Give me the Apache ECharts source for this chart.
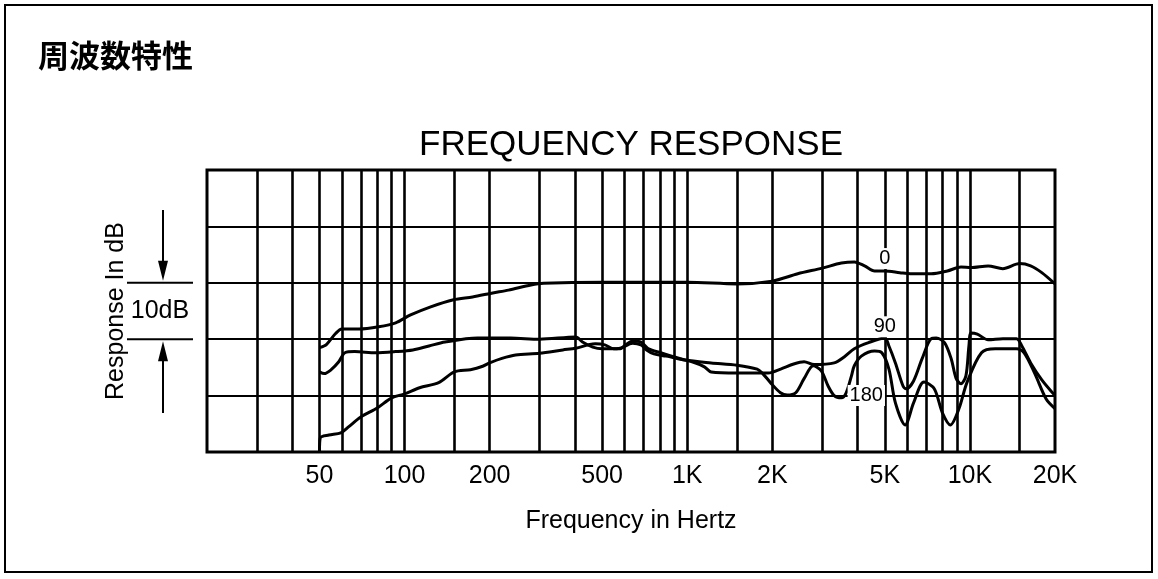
<!DOCTYPE html>
<html>
<head>
<meta charset="utf-8">
<style>
  html, body { margin: 0; padding: 0; background: #fff; }
  #main { width: 1158px; height: 579px; }
</style>
<script src="https://cdn.jsdelivr.net/npm/echarts@6/dist/echarts.min.js"></script>
</head>
<body>
<div id="main"></div>
<script>
// 横轴刻度（对数轴）
var xTickLabels = [50, 100, 200, 500, 1000, 2000, 5000, 10000, 20000];
var xGridValues = [30, 40, 50, 60, 70, 80, 90, 100, 150, 200, 300, 400, 500, 600, 700, 800, 900,
  1000, 1500, 2000, 3000, 4000, 5000, 6000, 7000, 8000, 9000, 10000, 15000];

// 0 度曲线
var freq0 = [50, 53, 57, 60, 69, 81, 93, 105, 123, 149, 174, 205, 233, 280, 310, 500, 700, 1000, 1500, 2000,
  2460, 3000, 3510, 3900, 4240, 4600, 5000, 5650, 6160, 7300, 8320, 9300, 10090, 11600, 13070, 15000, 16400, 17960, 20000];
var resp0 = [-11.5, -10.9, -9.0, -8.2, -8.2, -7.8, -7.1, -5.7, -4.3, -3.0, -2.5, -1.8, -1.3, -0.4, -0.1, 0.1, 0.1, 0.1, -0.2, 0.3,
  1.6, 2.6, 3.5, 3.7, 3.0, 2.1, 2.1, 1.8, 1.6, 1.6, 2.1, 2.8, 2.7, 3.0, 2.5, 3.4, 3.0, 1.8, -0.2];

// 90 度曲线
var freq90 = [50, 52, 55, 58.5, 61.5, 66.6, 79, 93, 107, 122,
  139, 181, 237, 300, 403, 426, 463, 500, 538, 579,
  641, 686, 718, 762, 842, 937, 1040, 1150, 1215, 1500,
  1770, 1935, 2140, 2380, 2590, 2810, 3310, 3600, 3900, 4380,
  5000, 5170, 5450, 5800, 5950, 6320, 6770, 7300, 7600, 8130,
  8590, 8930, 9300, 9680, 9920, 10090, 10620, 11600, 13070, 14620,
  15270, 16400, 17960, 20000];
var resp90 = [-15.8, -16.1, -15.4, -14.0, -12.4, -12.2, -12.4, -12.2, -11.9, -11.2,
  -10.5, -9.8, -9.8, -10.0, -9.6, -10.5, -11.4, -11.7, -11.7, -11.6,
  -10.7, -11.0, -11.9, -12.6, -13.0, -13.5, -14.0, -14.9, -15.8, -16.0,
  -16.0, -16.0, -15.3, -14.4, -14.0, -14.5, -14.2, -13.1, -11.7, -10.6,
  -9.8, -11.2, -14.2, -18.3, -18.8, -17.4, -13.5, -9.9, -9.8, -10.6,
  -13.5, -16.9, -17.9, -16.5, -11.2, -8.9, -9.1, -10.1, -9.9, -9.9,
  -11.2, -14.2, -17.2, -20.0];

// 180 度曲线
var freq180 = [50, 50.3, 54, 59.5, 63.5, 70, 80, 90, 100, 113,
  132, 150, 171, 189, 200, 221, 247, 300, 363, 403,
  447, 473, 511, 550, 579, 605, 641, 686, 730, 806,
  907, 984, 1215, 1500, 1768, 1850, 1970, 2137, 2260, 2420,
  2590, 2790, 2980, 3150, 3310, 3510, 3650, 3810, 3900, 4130,
  4600, 4880, 5170, 5450, 5900, 6320, 6880, 7480, 8000, 8530,
  9150, 9760, 10990, 12300, 14620, 15550, 16970, 18610, 20000];
var resp180 = [-30, -27.5, -27.0, -26.6, -25.5, -23.8, -22.2, -20.4, -19.7, -18.6,
  -17.7, -15.8, -15.4, -14.8, -14.2, -13.4, -12.8, -12.5, -11.9, -11.6,
  -11.0, -10.8, -11.0, -11.7, -11.7, -11.0, -10.3, -10.5, -11.7, -12.4,
  -13.2, -13.7, -14.2, -14.6, -15.3, -16.1, -17.7, -19.5, -19.9, -19.5,
  -17.0, -14.7, -15.6, -18.3, -20.0, -20.4, -19.5, -16.5, -14.7, -13.0,
  -12.1, -12.4, -15.3, -21.3, -25.2, -21.3, -17.6, -18.8, -23.1, -25.2,
  -22.3, -17.7, -12.4, -11.7, -11.7, -12.4, -16.1, -20.6, -22.3];

// 曲线标注
var curveTags = ['0', '90', '180'];
var tagFreq = [5000, 5000, 4300];
var tagDb = [4.3, -7.8, -20];

(function () {
  var font = '"Liberation Sans", Arial, sans-serif';
  var myChart = echarts.init(document.getElementById('main'));

  function pairs(xs, ys) {
    return xs.map(function (x, i) { return [x, ys[i]]; });
  }

  function makeSeries(name, xs, ys, idx) {
    return {
      name: name,
      type: 'line',
      data: pairs(xs, ys),
      smooth: 0.3,
      symbol: 'none',
      lineStyle: { color: '#000', width: 3 },
      markPoint: {
        symbol: 'rect',
        symbolSize: 1,
        itemStyle: { color: 'rgba(0,0,0,0)' },
        label: {
          show: true,
          position: 'inside',
          formatter: curveTags[idx],
          color: '#000',
          fontFamily: font,
          fontSize: 20,
          backgroundColor: '#fff',
          padding: [1, 2, 0, 2]
        },
        data: [{ coord: [tagFreq[idx], tagDb[idx]] }]
      }
    };
  }

  var option = {
    animation: false,
    backgroundColor: '#fff',
    grid: {
      left: 207,
      right: 103,
      top: 170,
      bottom: 127,
      show: true,
      borderColor: '#000',
      borderWidth: 3,
      backgroundColor: 'transparent'
    },
    xAxis: {
      type: 'log',
      logBase: 10,
      min: 20,
      max: 20000,
      name: 'Frequency in Hertz',
      nameLocation: 'middle',
      nameGap: 57,
      nameTextStyle: { color: '#000', fontFamily: font, fontSize: 25 },
      axisLine: { show: false },
      axisTick: { show: false, customValues: xGridValues },
      splitLine: { show: true, lineStyle: { color: '#000', width: 2.6 } },
      axisLabel: {
        customValues: xTickLabels,
        margin: 12,
        color: '#000',
        fontFamily: font,
        fontSize: 25,
        formatter: function (v) {
          return v >= 1000 ? (v / 1000) + 'K' : String(v);
        }
      }
    },
    yAxis: {
      type: 'value',
      min: -30,
      max: 20,
      interval: 10,
      name: 'Response In dB',
      nameLocation: 'middle',
      nameRotate: 90,
      nameGap: 78,
      nameTextStyle: { color: '#000', fontFamily: font, fontSize: 25 },
      axisLine: { show: false },
      axisTick: { show: false },
      axisLabel: { show: false },
      splitLine: { show: true, lineStyle: { color: '#000', width: 2.2 } }
    },
    series: [
      makeSeries('0', freq0, resp0, 0),
      makeSeries('90', freq90, resp90, 1),
      makeSeries('180', freq180, resp180, 2)
    ]
  };
  myChart.setOption(option);

  // 10dB 标尺，位置跟随 y 轴
  var y0 = myChart.convertToPixel({ yAxisIndex: 0 }, 0);
  var y1 = myChart.convertToPixel({ yAxisIndex: 0 }, -10);
  var ax = 163;
  var graphic = [
    { type: 'rect', shape: { x: 5, y: 5, width: 1147, height: 567 },
      style: { fill: 'none', stroke: '#000', lineWidth: 2 } },
    { type: 'text', x: 38, y: 55,
      style: { text: '周波数特性', font: 'bold 31px "Noto Sans CJK JP"', fill: '#000', textVerticalAlign: 'middle' } },
    { type: 'text', x: 631, y: 145,
      style: { text: 'FREQUENCY RESPONSE', font: '35px ' + font, fill: '#000', textAlign: 'center', textVerticalAlign: 'middle' } },
    { type: 'line', shape: { x1: 127, y1: y0, x2: 193, y2: y0 }, style: { stroke: '#000', lineWidth: 2 } },
    { type: 'line', shape: { x1: 127, y1: y1, x2: 193, y2: y1 }, style: { stroke: '#000', lineWidth: 2 } },
    { type: 'line', shape: { x1: ax, y1: 210, x2: ax, y2: y0 - 12 }, style: { stroke: '#000', lineWidth: 2 } },
    { type: 'polygon', shape: { points: [[ax - 5, y0 - 22], [ax + 5, y0 - 22], [ax, y0 - 2]] }, style: { fill: '#000' } },
    { type: 'line', shape: { x1: ax, y1: y1 + 12, x2: ax, y2: 413 }, style: { stroke: '#000', lineWidth: 2 } },
    { type: 'polygon', shape: { points: [[ax - 5, y1 + 22], [ax + 5, y1 + 22], [ax, y1 + 2]] }, style: { fill: '#000' } },
    { type: 'text', x: 160, y: (y0 + y1) / 2,
      style: { text: '10dB', font: '25px ' + font, fill: '#000', textAlign: 'center', textVerticalAlign: 'middle' } }
  ];
  myChart.setOption({ graphic: graphic });

  window.addEventListener('resize', function () {
    myChart.resize();
  });
})();
</script>
</body>
</html>
